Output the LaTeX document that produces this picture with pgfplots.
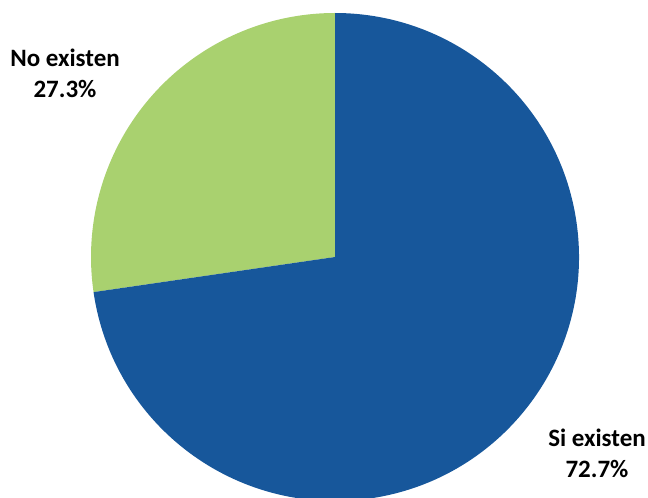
\documentclass[border=0pt]{standalone}
\usepackage{pgfplots}
\usepackage{pgfplotstable}
\pgfplotsset{compat=1.18}
\usepackage{fontspec}
\setmainfont{Carlito}
\definecolor{piegreen}{HTML}{A9D16F}
\definecolor{pieblue}{HTML}{17579B}
\pgfplotstableread{
label value
{No existen} 27.3
{Si existen} 72.7
}\piedata
\begin{document}
\begin{tikzpicture}
\pgfplotstablegetelem{0}{value}\of\piedata \let\vA\pgfplotsretval
\pgfplotstablegetelem{1}{value}\of\piedata \let\vB\pgfplotsretval
\pgfmathsetmacro{\aStart}{90}
\pgfmathsetmacro{\aMid}{90+3.6*\vA}
\pgfmathsetmacro{\aEnd}{\aMid+3.6*\vB}
\begin{axis}[
  scale only axis, width=648pt, height=498pt,
  xmin=0, xmax=648, ymin=0, ymax=498,
  hide axis, clip=true,
]
\fill[piegreen] (axis cs:335,241) -- ++(\aStart:244pt) arc[start angle=\aStart, end angle=\aMid, radius=244pt] -- cycle;
\fill[pieblue] (axis cs:335,241) -- ++(\aMid:244pt) arc[start angle=\aMid, end angle=\aEnd, radius=244pt] -- cycle;
\node[align=center, font=\fontsize{25}{31}\selectfont\bfseries] at (axis cs:65,425) {No existen\\27.3\%};
\node[align=center, font=\fontsize{25}{31}\selectfont\bfseries] at (axis cs:597,45) {Si existen\\72.7\%};
\end{axis}
\pgfresetboundingbox
\path (current axis.south west) rectangle (current axis.north east);
\end{tikzpicture}
\end{document}
